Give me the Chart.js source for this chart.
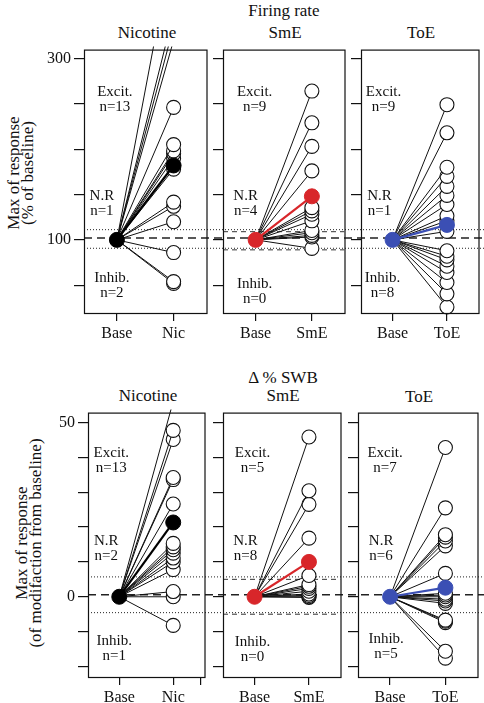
<!DOCTYPE html>
<html><head><meta charset="utf-8">
<script src="https://cdn.jsdelivr.net/npm/chart.js@4.4.0/dist/chart.umd.min.js"></script>
<style>
html,body{margin:0;padding:0;background:#fff;}
body{width:484px;height:703px;position:relative;overflow:hidden;font-family:"Liberation Serif","Times New Roman",serif;color:#111;}
canvas{position:absolute;}
.t{position:absolute;white-space:nowrap;transform:translate(-50%,-50%);font-size:17px;line-height:1;}
.yl{position:absolute;white-space:nowrap;transform:translate(-50%,-50%) rotate(-90deg);font-size:17px;line-height:14px;text-align:center;}
</style></head><body>
<div class="t" style="left:284px;top:10px">Firing rate</div>
<div class="t" style="left:147px;top:32px">Nicotine</div>
<div class="t" style="left:285px;top:32px">SmE</div>
<div class="t" style="left:421px;top:32px">ToE</div>
<div class="t" style="left:283px;top:377px">Δ % SWB</div>
<div class="t" style="left:148px;top:395px">Nicotine</div>
<div class="t" style="left:283px;top:395px">SmE</div>
<div class="t" style="left:419px;top:396px">ToE</div>
<div class="yl" style="left:21px;top:173px">Max of response<br>(% of baseline)</div>
<div class="yl" style="left:29px;top:543px">Max of response<br>(of modifaction from baseline)</div>
<script>
// ---------- data ----------
const baseLabel = 'Base';
const treatLabels = ['Nic', 'SmE', 'ToE'];
const countLabels = ['Excit.', 'N.R', 'Inhib.'];

// Firing rate (% of baseline)
const frBase = 100;
const frNic = [430, 350, 335, 320, 246, 205, 198, 195, 190, 178, 141.6, 137, 120, 86, 54, 52];
const frNicMean = 182;
const frSmE = [264, 229, 203, 176, 135.5, 132, 128.3, 121, 110.4, 107.9, 105, 103.2, 90.6];
const frSmEMean = 148;
const frToE = [249, 218, 180, 170, 159, 149, 139, 126.5, 121, 109.4, 88, 82, 78, 71, 64, 53, 40.5, 26];
const frToEMean = 116.5;
const frNicCounts = [13, 1, 2];
const frSmECounts = [9, 4, 0];
const frToECounts = [9, 1, 8];
const frBand = [89, 109];
const frTicks = [50, 100, 150, 200, 250, 300];
const frTickLabels = [100, 300];

// Delta % SWB (modification from baseline)
const swbBase = 0;
const swbNic = [56, 47.7, 45.1, 34.2, 33.6, 26.6, 15.3, 14.3, 13.5, 12.5, 11.1, 10, 7.8, 1.5, 0, -8.2];
const swbNicMean = 21.3;
const swbSmE = [45.8, 30.4, 26.5, 16.8, 6.1, 3.5, 3.0, 2.4, 1.6, 0.8, 0.4, 0, -0.2];
const swbSmEMean = 10;
const swbToE = [42.8, 25.5, 17.8, 17.1, 16, 14.6, 6.7, 1.0, 0.5, 0, -0.7, -1.2, -1.9, -6.7, -7.0, -7.4, -15.6, -17.6];
const swbToEMean = 2.6;
const swbNicCounts = [13, 2, 1];
const swbSmECounts = [5, 8, 0];
const swbToECounts = [7, 6, 5];
const swbBand = [-5, 5];
const swbTicks = [-20, -10, 0, 10, 20, 30, 40, 50];
const swbTickLabels = [0, 50];

// ---------- styling ----------
const FONT = '"Liberation Serif", "Times New Roman", serif';
const RED = '#d8262a';
const BLUE = '#3b4fb4';
const L = 50, T = 6, R = 6, B = 34;

const boxPlugin = {
  id: 'box',
  afterDatasetsDraw(chart) {
    const a = chart.chartArea, c = chart.ctx;
    c.save();
    c.strokeStyle = '#111'; c.lineWidth = 1.2;
    c.strokeRect(a.left + 0.5, a.top + 0.5, a.right - a.left, a.bottom - a.top);
    c.restore();
  }
};
const textPlugin = {
  id: 'panelText',
  afterDraw(chart, args, opts) {
    if (!opts.blocks) return;
    const c = chart.ctx, xs = chart.scales.x, ys = chart.scales.y;
    c.save();
    c.font = '15px ' + FONT; c.fillStyle = '#111';
    c.textAlign = 'center'; c.textBaseline = 'middle';
    const x0 = xs.getPixelForValue(1);
    opts.blocks.forEach(b => {
      const y = ys.getPixelForValue(b.y);
      c.fillText(b.l1, x0 + b.dx, y - 7.5);
      c.fillText(b.l2, x0 + b.dx, y + 7.5);
    });
    c.restore();
  }
};

function addCanvas(left, top, w, h) {
  const cv = document.createElement('canvas');
  cv.width = w; cv.height = h;
  cv.style.left = left + 'px'; cv.style.top = top + 'px';
  cv.style.width = w + 'px'; cv.style.height = h + 'px';
  document.body.appendChild(cv);
  return cv;
}

function overlay(p) {
  const cv = addCanvas(p.left, p.top, p.right - p.left, p.bottom - p.top);
  const line = (v, dash, w) => ({ data: [{x: 0, y: v}, {x: 1, y: v}], borderColor: '#222', borderWidth: w, borderDash: dash, pointRadius: 0 });
  new Chart(cv, {
    type: 'line',
    data: { datasets: [line(p.center, [8, 5], 1.6), line(p.band[0], [1, 2], 1), line(p.band[1], [1, 2], 1)] },
    options: {
      responsive: false, animation: false, devicePixelRatio: 1,
      layout: { padding: 0 },
      plugins: { legend: { display: false }, tooltip: { enabled: false } },
      scales: {
        x: { type: 'linear', display: false, min: 0, max: 1 },
        y: { type: 'linear', display: false, min: p.ymin, max: p.ymax }
      }
    }
  });
}

function panel(p) {
  const w = p.right - p.left, h = p.bottom - p.top;
  const cv = addCanvas(p.left - L, p.top - T, w + L + R, h + T + B);
  const ds = [];
  ds.push({ data: [{x: 1, y: p.base}, {x: 2, y: p.mean}], borderColor: p.color, borderWidth: 2.2,
    pointRadius: 7.5, pointBackgroundColor: p.color, pointBorderColor: p.color, pointBorderWidth: 1,
    clip: {left: 10, right: 10, top: 3, bottom: 10} });
  p.values.forEach(v => ds.push({ data: [{x: 1, y: p.base}, {x: 2, y: v}], borderColor: '#111', borderWidth: 1,
    pointRadius: [0, 7], pointBackgroundColor: '#fff', pointBorderColor: '#111', pointBorderWidth: 1.1,
    clip: {left: 10, right: 10, top: 3, bottom: 10} }));
  if (p.dashBand) {
    p.dashBand.forEach(v => ds.push({ data: [{x: 0.42, y: v}, {x: 2.58, y: v}], borderColor: '#333', borderWidth: 1,
      borderDash: [5, 4], pointRadius: 0 }));
  }
  const xTicks = p.extraX ? [1, 2, p.extraX] : [1, 2];
  const c = p.counts;
  new Chart(cv, {
    type: 'line',
    data: { datasets: ds },
    plugins: [boxPlugin, textPlugin],
    options: {
      responsive: false, animation: false, devicePixelRatio: 1,
      layout: { padding: { top: T, right: R, left: 0, bottom: 0 } },
      plugins: {
        legend: { display: false }, tooltip: { enabled: false },
        panelText: { blocks: [
          { l1: countLabels[0], l2: 'n=' + c[0], y: p.textY[0], dx: p.textDx[0] },
          { l1: countLabels[1], l2: 'n=' + c[1], y: p.textY[1], dx: p.textDx[1] },
          { l1: countLabels[2], l2: 'n=' + c[2], y: p.textY[2], dx: p.textDx[2] }
        ] }
      },
      scales: {
        x: {
          type: 'linear', min: 0.42, max: 2.58, bounds: 'data',
          afterBuildTicks: s => { s.ticks = xTicks.map(v => ({ value: v })); },
          afterFit: s => { s.height = B; },
          grid: { drawOnChartArea: false, drawTicks: true, tickLength: 8, color: '#111', lineWidth: 1.2 },
          border: { display: false },
          ticks: { autoSkip: false, maxRotation: 0, padding: 3, color: '#111', font: { family: FONT, size: 16 },
            callback: v => v === 1 ? baseLabel : (v === 2 ? p.treat : '') }
        },
        y: {
          type: 'linear', min: p.ymin, max: p.ymax, bounds: 'data',
          afterBuildTicks: s => { s.ticks = p.yTicks.map(v => ({ value: v })); },
          afterFit: s => { s.width = L; },
          grid: { drawOnChartArea: false, drawTicks: true, tickLength: 10, color: '#111', lineWidth: 1.2 },
          border: { display: false },
          ticks: { autoSkip: false, padding: 3, color: '#111', font: { family: FONT, size: 16 },
            callback: v => (p.showY && p.yLabels.includes(v)) ? String(v) : '' }
        }
      }
    }
  });
}

// Top row: firing rate
const frRange = { ymin: 19.4, ymax: 309.7 };
overlay({ left: 84, right: 484, top: 43, bottom: 313, ymin: frRange.ymin, ymax: frRange.ymax, center: frBase, band: frBand });
const frTextY = [255, 140, 50];
panel({ left: 84, right: 209, top: 43, bottom: 313, ...frRange, base: frBase, values: frNic, mean: frNicMean, color: '#000',
  treat: treatLabels[0], yTicks: frTicks, yLabels: frTickLabels, showY: true, counts: frNicCounts,
  textY: frTextY, textDx: [-2, -15, -5] });
panel({ left: 223, right: 347, top: 43, bottom: 313, ...frRange, base: frBase, values: frSmE, mean: frSmEMean, color: RED,
  treat: treatLabels[1], yTicks: frTicks, yLabels: frTickLabels, showY: false, counts: frSmECounts,
  textY: [255, 140, 43.5], textDx: [-1, -10, -1], dashBand: frBand });
panel({ left: 361, right: 481, top: 43, bottom: 313, ...frRange, base: frBase, values: frToE, mean: frToEMean, color: BLUE,
  treat: treatLabels[2], yTicks: frTicks, yLabels: frTickLabels, showY: false, counts: frToECounts,
  textY: frTextY, textDx: [-9, -13, -10] });

// Bottom row: delta % SWB
const swbRange = { ymin: -23.0, ymax: 52.8 };
overlay({ left: 88, right: 484, top: 406, bottom: 677, ymin: swbRange.ymin, ymax: swbRange.ymax, center: swbBase, band: swbBand });
panel({ left: 88, right: 207, top: 406, bottom: 677, ...swbRange, base: swbBase, values: swbNic, mean: swbNicMean, color: '#000',
  treat: treatLabels[0], yTicks: swbTicks, yLabels: swbTickLabels, showY: true, counts: swbNicCounts,
  textY: [39.1, 13.7, -14.8], textDx: [-8, -13, -5], extraX: 2.5 });
panel({ left: 223, right: 343, top: 406, bottom: 677, ...swbRange, base: swbBase, values: swbSmE, mean: swbSmEMean, color: RED,
  treat: treatLabels[1], yTicks: swbTicks, yLabels: swbTickLabels, showY: false, counts: swbSmECounts,
  textY: [39.1, 13.7, -15.1], textDx: [-2, -9, -2], dashBand: swbBand });
panel({ left: 358, right: 480, top: 406, bottom: 677, ...swbRange, base: swbBase, values: swbToE, mean: swbToEMean, color: BLUE,
  treat: treatLabels[2], yTicks: swbTicks, yLabels: swbTickLabels, showY: false, counts: swbToECounts,
  textY: [39.1, 13.7, -14.3], textDx: [-5, -9, -4] });
</script>
</body></html>
